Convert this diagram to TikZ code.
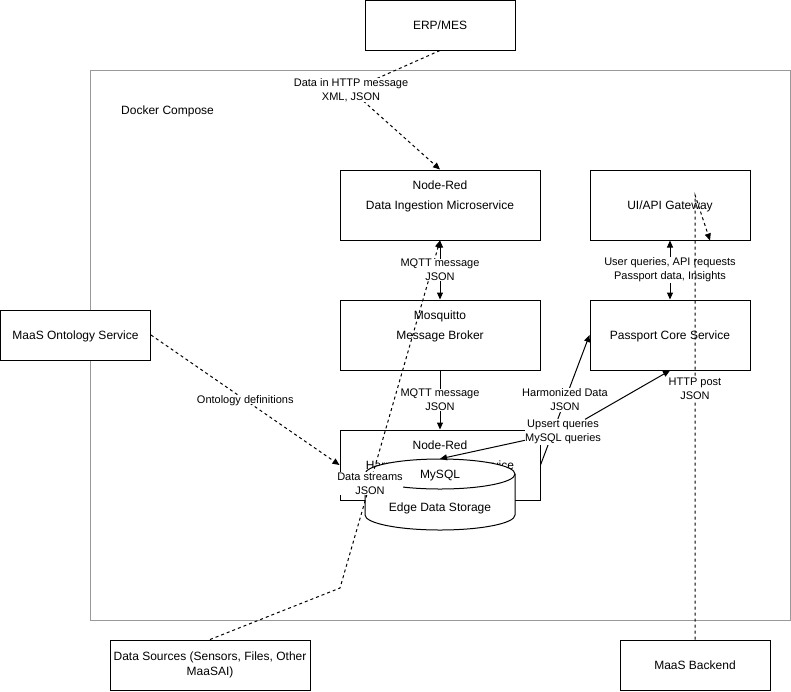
\documentclass[tikz,border=0pt]{standalone}
\usepackage{fontspec}
\setmainfont{Liberation Sans}
\usepackage{tikz}
\usetikzlibrary{arrows.meta}

\tikzset{
  svcbox/.style={draw=black, fill=white, line width=1pt, minimum width=200pt, minimum height=70pt,
    align=center, inner sep=2pt, font=\fontsize{12}{14.4}\selectfont},
  extbox/.style={svcbox, minimum width=150pt, minimum height=50pt},
  boxtext/.style={inner sep=1pt, font=\fontsize{12}{14.4}\selectfont},
  edgelbl/.style={fill=white, inner sep=0.5pt, align=center, font=\fontsize{11}{14}\selectfont},
  oneline/.style={text depth=0pt},
  flow/.style={line width=1pt},
  dataflow/.style={flow, dashed},
}

\begin{document}
\begin{tikzpicture}[line cap=butt,line join=miter,>={Triangle[length=7pt,width=6pt]},x=1pt,y=-1pt]
\useasboundingbox (0,0) rectangle (791,691);

% docker compose frame
\node[draw=gray!80, line width=1pt, minimum width=700pt, minimum height=550pt, inner sep=0pt] (docker) at (440,345) {};
\node[boxtext, oneline, anchor=west] (dockerlbl) at (120,110) {Docker Compose};

% outside services
\node[extbox] (erp) at (440,25) {ERP/MES};
\node[extbox, oneline] (onto) at (75.5,335) {MaaS Ontology Service};
\node[svcbox, minimum height=50pt] (sources) at (210,665) {Data Sources (Sensors, Files, Other\\MaaSAI)};
\node[extbox] (backend) at (695,665) {MaaS Backend};

% containers
\node[svcbox] (ingest) at (440,205) {Node-Red\\[5.6pt]Data Ingestion Microservice\\[5.6pt]\mbox{}};
\node[svcbox] (broker) at (440,335) {Mosquitto\\[5.6pt]Message Broker\\[5.6pt]\mbox{}};
\node[svcbox] (harmon) at (440,465) {Node-Red\\[5.6pt]Harmonization Microservice\\[5.6pt]\mbox{}};
\node[svcbox, oneline, minimum width=160pt] (gateway) at (670,205) {UI/API Gateway};
\node[svcbox, oneline, minimum width=160pt] (passport) at (670,335) {Passport Core Service};

% edge data storage (cylinder)
\node[minimum width=150pt, minimum height=71pt, inner sep=0pt] (storage) at (440,494.5) {};
\draw[flow, fill=white] (365,474) -- (365,515) arc[start angle=180, end angle=360, x radius=75pt, y radius=15pt]
  -- (515,474) arc[start angle=0, end angle=180, x radius=75pt, y radius=15pt] -- cycle;
\draw[flow] (365,474) arc[start angle=180, end angle=360, x radius=75pt, y radius=15pt];
\node[boxtext, oneline] (mysqltxt) at (440,474) {MySQL};
\node[boxtext, oneline] (storetxt) at (440,507) {Edge Data Storage};

% dashed flows
\coordinate (httppt) at (351,90);
\draw[dataflow, ->] (erp.south) -- (httppt) -- (ingest.north);
\node[edgelbl] (httplbl) at (httppt) {Data in HTTP message\\XML, JSON};

\draw[dataflow, ->] (onto.east) -- (harmon.west) node[edgelbl, oneline, midway] (ontolbl) {Ontology definitions};

\coordinate (srcbend) at (340,588);
\draw[dataflow, ->] (sources.north) -- (srcbend) -- (ingest.south) node[edgelbl, pos=0.3] (streamlbl) {Data streams\\JSON};

% mqtt
\draw[flow, <->] (ingest.south) -- (broker.north) node[edgelbl, midway] (mqttlbla) {MQTT message\\JSON};
\draw[flow, ->] (broker.south) -- (harmon.north) node[edgelbl, midway] (mqttlblb) {MQTT message\\JSON};

% harmonized data and queries
\draw[flow, ->] (harmon.east) -- (passport.west) node[edgelbl, midway] (harmlbl) {Harmonized Data\\JSON};
\coordinate (upsertpt) at (563,432);
\draw[flow, <->] (storage.north) -- (upsertpt) -- (passport.south);
\node[edgelbl] (upsertlbl) at (upsertpt) {Upsert queries\\MySQL queries};

\draw[flow, <->] (gateway.south) -- (passport.north) node[edgelbl, midway] (gwlbl) {User queries, API requests\\Passport data, Insights};

% backend
\coordinate (gwbend) at (695,195);
\draw[dataflow, ->] (backend.north) -- (gwbend) -- ([xshift=40pt]gateway.south);
\node[edgelbl] (postlbl) at (695,389) {HTTP post\\JSON};

\end{tikzpicture}
\end{document}
